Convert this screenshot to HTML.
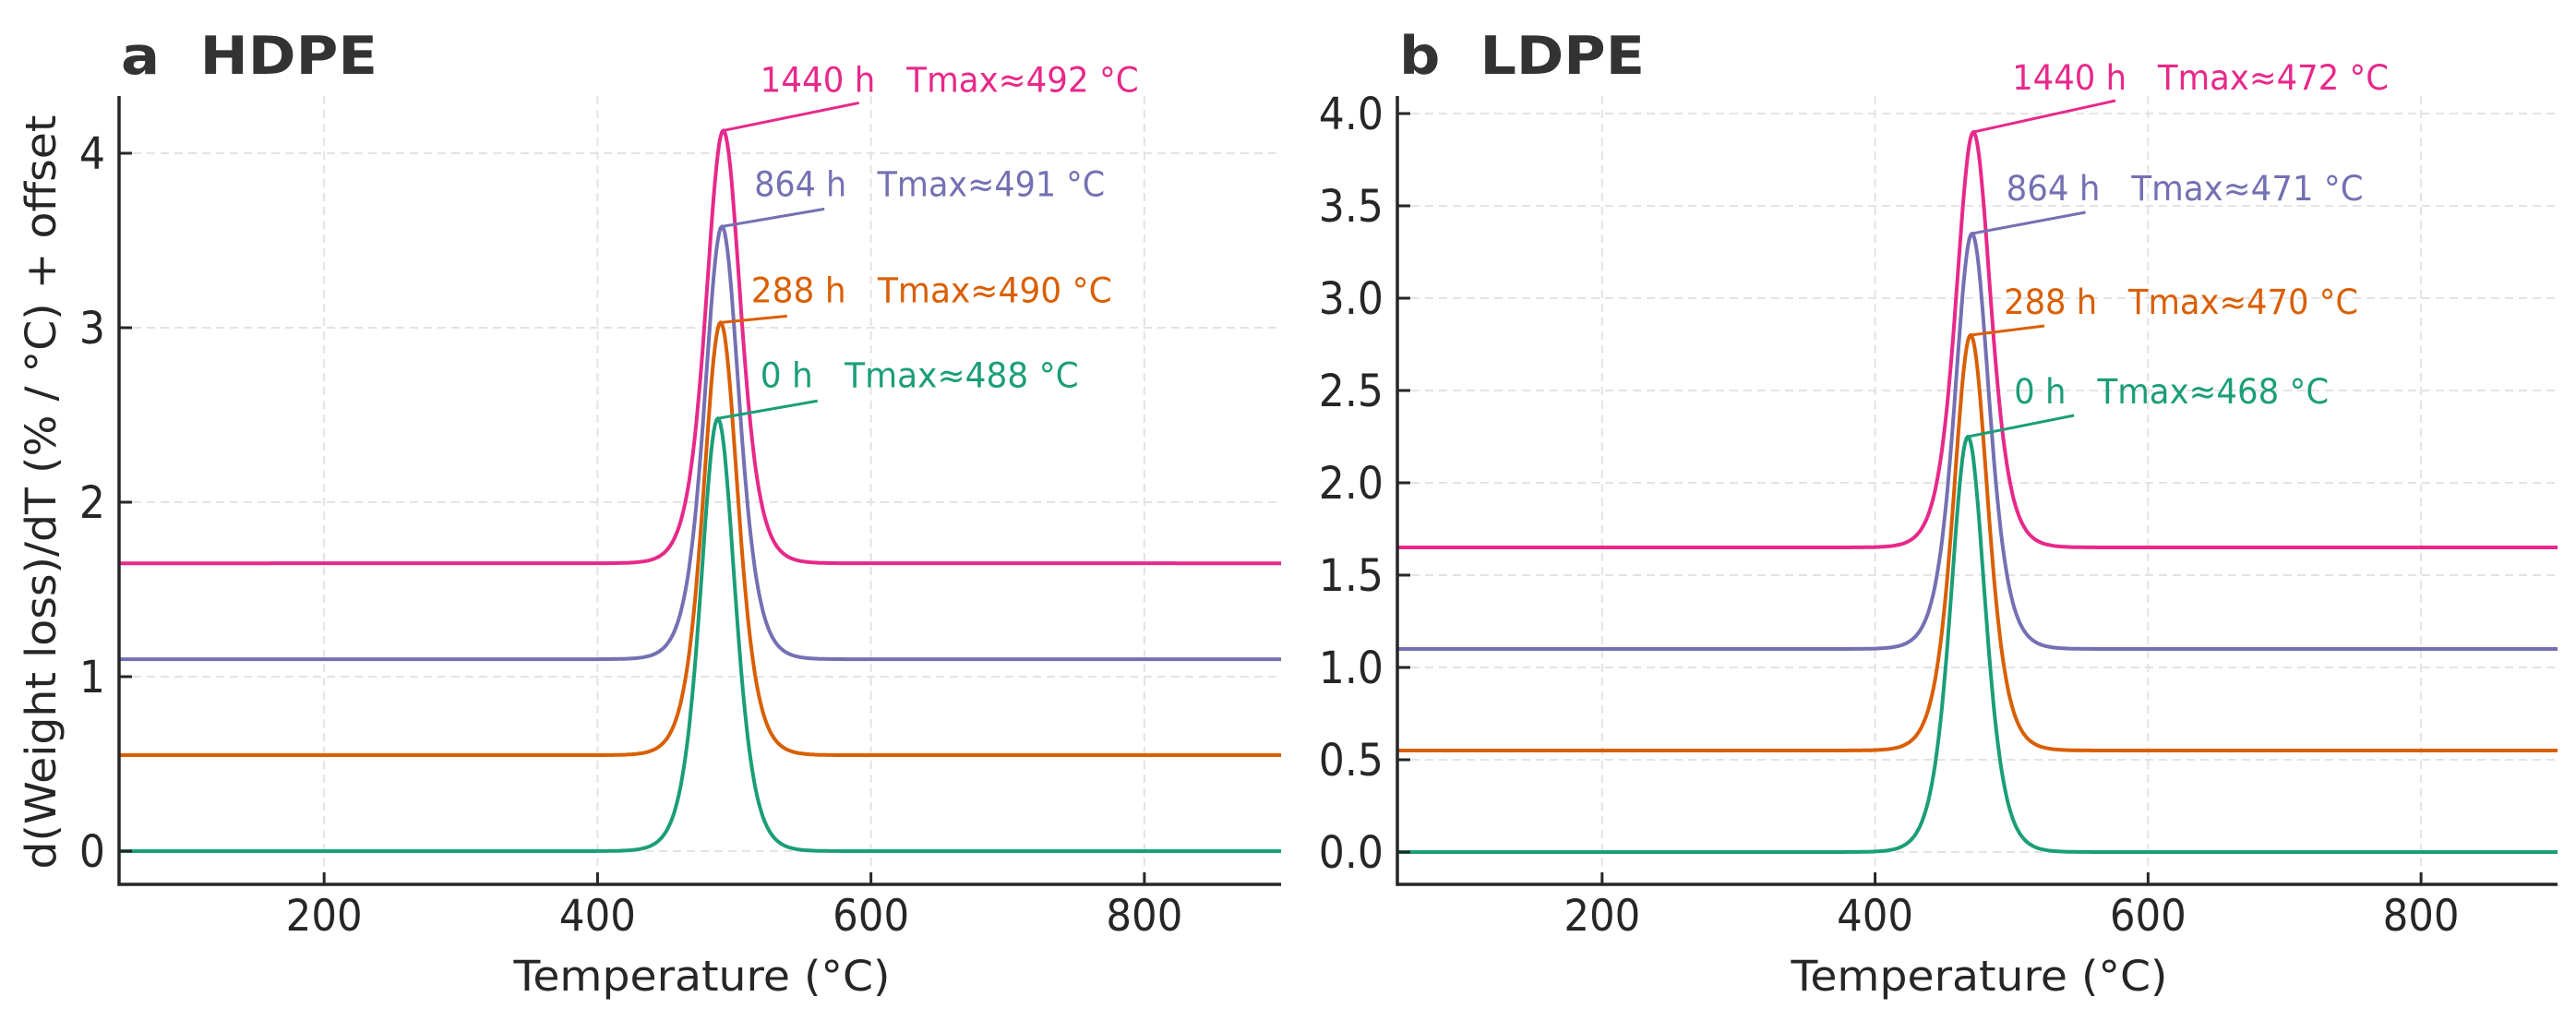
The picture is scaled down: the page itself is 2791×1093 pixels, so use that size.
<!DOCTYPE html>
<html><head><meta charset="utf-8"><style>
html,body{margin:0;padding:0;background:#fff;}
svg{display:block;font-family:"DejaVu Sans","Liberation Sans",sans-serif;}
</style></head><body>
<svg id="chart" width="2791" height="1093" viewBox="0 0 2791 1093" xmlns="http://www.w3.org/2000/svg"></svg>
<script>
// ---- data ----
const sampleTimes = ["0 h", "288 h", "864 h", "1440 h"];
const seriesOffsets = [0, 0.55, 1.1, 1.65];
const hdpeTmax = [488, 490, 491, 492];
const ldpeTmax = [468, 470, 471, 472];
const hdpeAmplitude = [2.48, 2.48, 2.48, 2.48];
const ldpeAmplitude = [2.25, 2.25, 2.25, 2.25];
const hdpeYTicks = [0, 1, 2, 3, 4];
const ldpeYTicks = [0.0, 0.5, 1.0, 1.5, 2.0, 2.5, 3.0, 3.5, 4.0];
const xTicks = [200, 400, 600, 800];
const colors = ["#1b9e77", "#d95f02", "#7570b3", "#e7298a"];

const NS = "http://www.w3.org/2000/svg";
const svg = document.getElementById("chart");
const COND = 0.92;
function mk(tag, attrs, parent) {
  const e = document.createElementNS(NS, tag);
  for (const k in attrs) e.setAttribute(k, attrs[k]);
  (parent || svg).appendChild(e);
  return e;
}
function condense(t, w) {
  const L = w || t.getComputedTextLength() * COND;
  t.setAttribute("textLength", L.toFixed(1));
  t.setAttribute("lengthAdjust", "spacingAndGlyphs");
}
const SP = "\u00A0\u00A0\u00A0";

function panel(cfg) {
  const g = mk("g", {});
  
  
  const L = cfg.left, R = cfg.right, T = 104, B = 958;
  const xs = v => L + (v - 50) / (900 - 50) * (R - L);
  const ys = v => cfg.y0 - v * cfg.yscale;

  for (const t of xTicks) {
    const l = mk("line", {x1: xs(t), x2: xs(t), y1: T, y2: B, stroke: "#e3e3e3", "stroke-width": 2, "stroke-dasharray": "9 6"}, g);
    
    
  }
  for (const t of cfg.yTicks) {
    const l = mk("line", {x1: L, x2: R, y1: ys(t), y2: ys(t), stroke: "#e3e3e3", "stroke-width": 2, "stroke-dasharray": "9 6"}, g);
    
    
  }

  for (let i = 0; i < sampleTimes.length; i++) {
    let d = "";
    for (let T0 = 50; T0 <= 900; T0 += 1) {
      const u = (T0 - cfg.tmax[i]) / 17;
      const c = 1 / Math.cosh(u);
      const v = seriesOffsets[i] + cfg.amp[i] * c * c;
      d += (T0 === 50 ? "M" : "L") + xs(T0).toFixed(1) + "," + ys(v).toFixed(1);
    }
    const p = mk("path", {d: d, fill: "none", stroke: colors[i], "stroke-width": 4, "stroke-linejoin": "round"}, g);
    
    
  }

  for (let i = 0; i < sampleTimes.length; i++) {
    const px = xs(cfg.tmax[i]), py = ys(seriesOffsets[i] + cfg.amp[i]);
    const o = cfg.ann[i];
    const ln = mk("line", {x1: px, y1: py, x2: px + o[2], y2: py + o[3], stroke: colors[i], "stroke-width": 3}, g);
    
    
    const t = mk("text", {x: px + o[0], y: py + o[1], fill: colors[i], "font-size": 37}, g);
    
    
    t.textContent = sampleTimes[i] + SP + "Tmax\u2248" + cfg.tmax[i] + " \u00B0C";
    condense(t, o[4]);
  }

  const ax = mk("path", {d: `M${L},${T} L${L},${B} L${R},${B}`, fill: "none", stroke: "#262626", "stroke-width": 3.5}, g);
  
  

  for (const t of xTicks) {
    mk("line", {x1: xs(t), x2: xs(t), y1: B, y2: B - 13, stroke: "#262626", "stroke-width": 3}, g);
    const tx = mk("text", {x: xs(t), y: 1008, "text-anchor": "middle", fill: "#262626", "font-size": 47}, g);
    
    
    tx.textContent = t;
    condense(tx, 83);
  }
  for (const t of cfg.yTicks) {
    mk("line", {x1: L, x2: L + 14, y1: ys(t), y2: ys(t), stroke: "#262626", "stroke-width": 3}, g);
    const ty = mk("text", {x: L - 15, y: ys(t) + 17, "text-anchor": "end", fill: "#262626", "font-size": 48}, g);
    
    
    ty.textContent = cfg.fmt(t);
    condense(ty);
  }

  const xl = mk("text", {x: (L + R) / 2 + 2, y: 1073, "text-anchor": "middle", fill: "#262626", "font-size": 45}, g);
  
  
  xl.textContent = "Temperature (\u00B0C)";
  condense(xl, 408);

  const tt = mk("text", {x: L + 2, y: 80, fill: "#333", "font-size": 57, "font-weight": "bold"}, g);
  
  
  tt.textContent = cfg.title;
  condense(tt, cfg.titleW);
}

panel({name: "hdpe-panel", title: "a\u00A0\u00A0HDPE", titleW: 278, left: 129, right: 1388, y0: 922, yscale: 189,
  yTicks: hdpeYTicks, tmax: hdpeTmax, amp: hdpeAmplitude, fmt: v => String(v),
  ann: [[46, -34, 108, -19, 345], [33, -22, 72, -7, 391], [35, -33, 111, -19, 380], [40, -42, 147, -30, 410]]});
panel({name: "ldpe-panel", title: "b\u00A0\u00A0LDPE", titleW: 266, left: 1514, right: 2771, y0: 923, yscale: 200,
  yTicks: ldpeYTicks, tmax: ldpeTmax, amp: ldpeAmplitude, fmt: v => v.toFixed(1),
  ann: [[50, -36, 115, -23, 341], [36, -23, 80, -10, 384], [37, -36, 123, -23, 387], [42, -46, 154, -34, 408]]});

const yl = mk("text", {x: 0, y: 0, "text-anchor": "middle", fill: "#262626", "font-size": 45, transform: "translate(60,533) rotate(-90)"});


yl.textContent = "d(Weight loss)/dT (% / \u00B0C) + offset";
condense(yl, 817);
</script>
</body></html>
